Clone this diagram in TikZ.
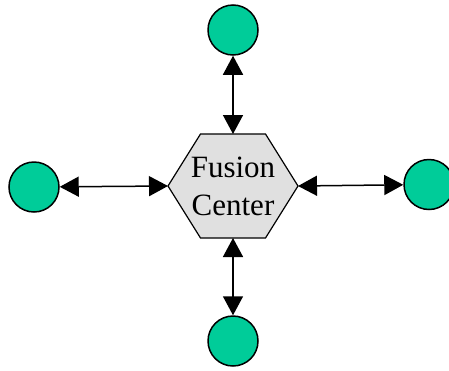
\documentclass[tikz,border=0pt]{standalone}
\usepackage{fontspec}
\setmainfont{Liberation Serif}
\usetikzlibrary{arrows.meta}
\definecolor{vert}{RGB}{0,204,153}
\definecolor{grisclair}{RGB}{224,224,224}
\begin{document}
\begin{tikzpicture}[x=1pt,y=-1pt]
\tikzstyle{capteur}=[draw, circle, fill=vert, line width=1.5pt, minimum size=50pt, inner sep=0pt];
\tikzstyle{centre}=[rectangle, minimum width=130pt, minimum height=104pt, inner sep=0pt, outer sep=0pt, align=center, font=\fontsize{31}{38}\selectfont];
\tikzstyle{fleche}=[line width=1.5pt, {Triangle[width=20pt,length=19pt]}-{Triangle[width=20pt,length=19pt]}];
\useasboundingbox (0,0) rectangle (449,370);

% hexagone
\draw[line width=1.2pt, fill=grisclair] (168,186) -- (200.5,134) -- (265.5,134) -- (298,186) -- (265.5,238) -- (200.5,238) -- cycle;
\node[centre] (fc) at (233,186) {Fusion\\Center};

\node[capteur] (haut) at (233,30) {};
\node[capteur] (gauche) at (34,187) {};
\node[capteur] (droite) at (429,184.5) {};
\node[capteur] (bas) at (233,341) {};

\draw[fleche] (fc.north) -- (haut);
\draw[fleche] (fc.south) -- (bas);
\draw[fleche] (fc.west) -- (gauche);
\draw[fleche] (fc.east) -- (droite);
\end{tikzpicture}
\end{document}
